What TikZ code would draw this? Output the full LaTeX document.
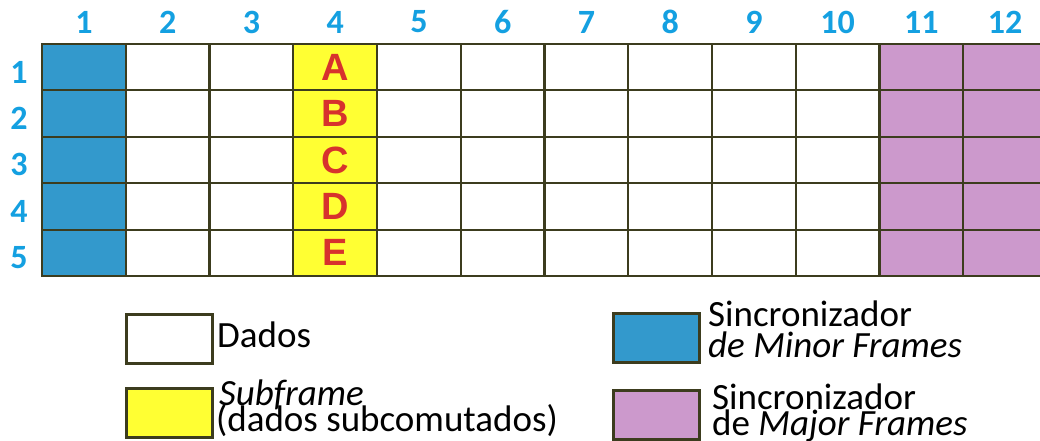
\documentclass[tikz,border=0pt]{standalone}
\usepackage{fontspec}
\setmainfont{Carlito}
\newfontfamily\letterfont{Liberation Sans}
\definecolor{gridline}{RGB}{60,60,30}
\definecolor{numblue}{RGB}{20,160,225}
\definecolor{syncblue}{RGB}{51,153,204}
\definecolor{syncpink}{RGB}{204,153,204}
\definecolor{subyellow}{RGB}{255,255,51}
\definecolor{letterred}{RGB}{215,50,45}
\begin{document}
\begin{tikzpicture}[x=1pt,y=-1pt,
  cell/.style={draw=gridline, line width=2.2pt, minimum width=83.75pt, minimum height=46.4pt, inner sep=0pt, outer sep=0pt, anchor=north west},
  numlabel/.style={text=numblue, font=\bfseries\fontsize{34}{34}\selectfont, inner sep=0pt},
  letterlabel/.style={text=letterred, font=\letterfont\bfseries\fontsize{38}{38}\selectfont},
  legbox/.style={draw=gridline, line width=3pt, minimum width=86pt, minimum height=49pt, inner sep=0pt, outer sep=0pt, anchor=north west},
  legtext/.style={font=\fontsize{37}{29}\selectfont, inner sep=0pt, anchor=base west, text=black}]
\useasboundingbox (0,0) rectangle (1040,441);
\fill[white] (0,0) rectangle (1040,441);
% grid cells
\foreach \r in {1,...,5} {
  \node[cell, fill=syncblue] (c-\r-1) at (42,{44+46.4*(\r-1)}) {};
  \foreach \c in {2,3,5,6,7,8,9,10} {
    \node[cell, fill=white] (c-\r-\c) at ({42+83.75*(\c-1)},{44+46.4*(\r-1)}) {};
  }
  \foreach \c in {11,12} {
    \node[cell, fill=syncpink] (c-\r-\c) at ({42+83.75*(\c-1)},{44+46.4*(\r-1)}) {};
  }
}
\foreach \r/\L in {1/A,2/B,3/C,4/D,5/E} {
  \node[cell, fill=subyellow, letterlabel] (c-\r-4) at ({42+83.75*3},{44+46.4*(\r-1)}) {\L};
}
% column numbers
\foreach \c in {1,...,12} {
  \node[numlabel] (col-\c) at ({42+83.75*(\c-0.5)},22) {\c};
}
% row numbers
\foreach \r in {1,...,5} {
  \node[numlabel] (row-\r) at (19,{72+46.4*(\r-1)}) {\r};
}
% legend
\node[legbox, fill=white] (leg-dados) at (126,314) {};
\node[legbox, fill=subyellow] (leg-sub) at (126,388) {};
\node[legbox, fill=syncblue] (leg-minor) at (613,313) {};
\node[legbox, fill=syncpink] (leg-major) at (613,390) {};
\node[legtext] (t-dados) at (217,347) {Dados};
\node[legtext] (t-sub1) at (219,405) {\itshape Subframe};
\node[legtext] (t-sub2) at (216,431) {(dados subcomutados)};
\node[legtext] (t-minor1) at (708,326) {Sincronizador};
\node[legtext] (t-minor2) at (708,357) {\itshape de Minor Frames};
\node[legtext] (t-major1) at (712,409) {Sincronizador};
\node[legtext] (t-major2) at (712,435) {de \textit{Major Frames}};
\end{tikzpicture}
\end{document}
